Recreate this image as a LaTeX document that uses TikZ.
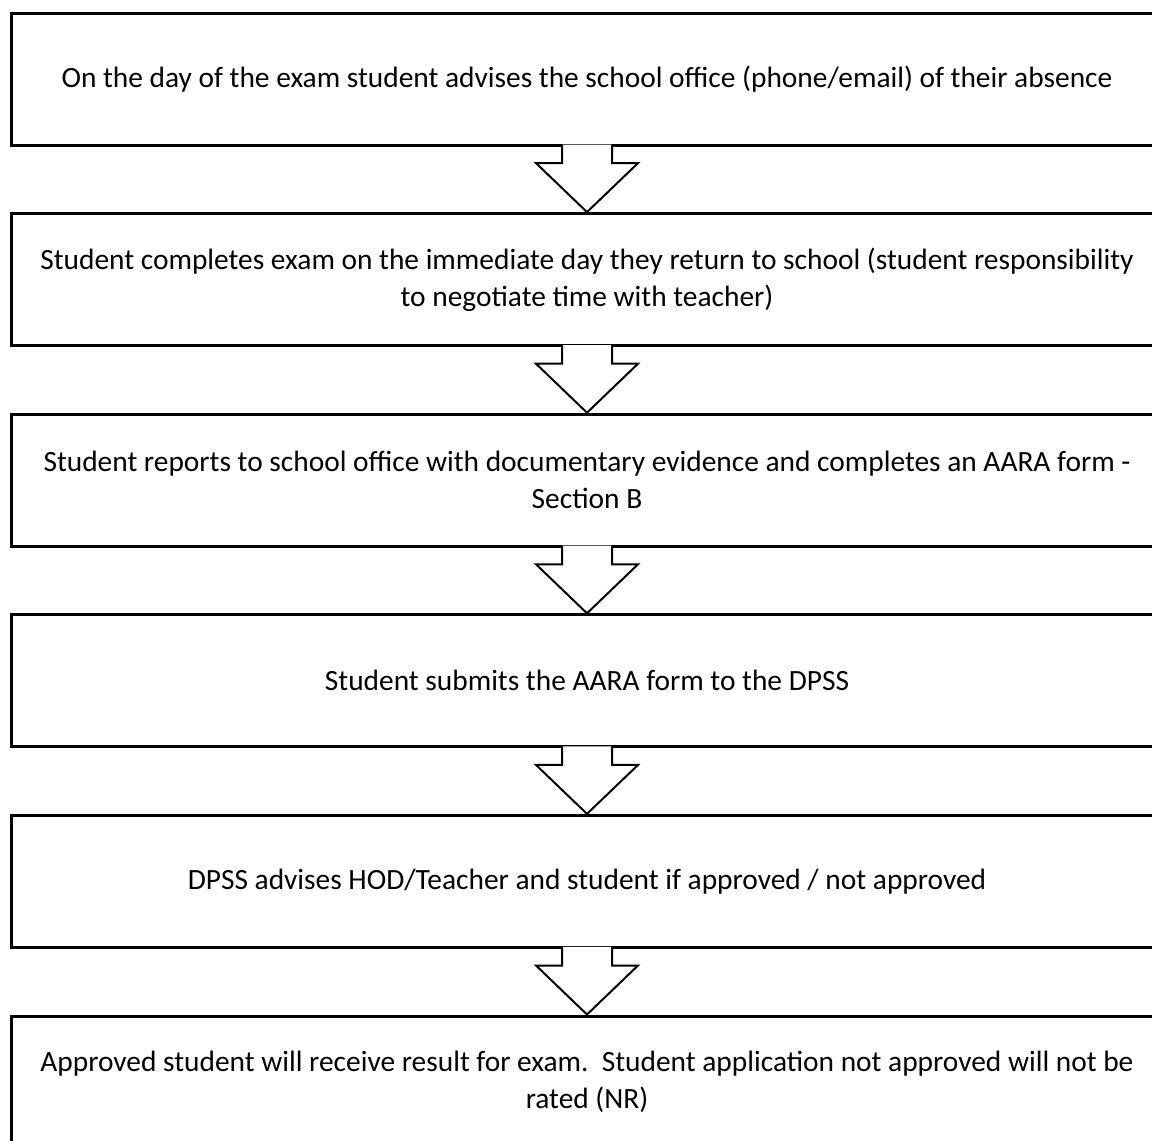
\documentclass[tikz,border=0pt]{standalone}
\usepackage{fontspec}
\setmainfont{Carlito}
\tikzset{
    stepbox/.style={draw,line width=1.5pt,minimum width=576pt,minimum height=66pt,inner sep=0pt,align=center,font=\fontsize{14.7}{18.4}\selectfont},
    blockarrow/.style={draw,fill=white,line width=1pt,line join=miter}
}
\begin{document}
\begin{tikzpicture}[x=0.5pt,y=-0.5pt]
    \clip (0,0) rectangle (1152,1141);
    \node[stepbox] (absence) at (587,79) {On the day of the exam student advises the school office (phone/email) of their absence};
    \node[stepbox] (complete) at (587,279.6) {Student completes exam on the immediate day they return to school (student responsibility\\to negotiate time with teacher)};
    \node[stepbox] (report) at (587,480.2) {Student reports to school office with documentary evidence and completes an AARA form -\\Section B};
    \node[stepbox] (submit) at (587,680.8) {Student submits the AARA form to the DPSS};
    \node[stepbox] (advise) at (587,881.4) {DPSS advises HOD/Teacher and student if approved / not approved};
    \node[stepbox] (result) at (587,1082) {Approved student will receive result for exam.\ \ Student application not approved will not be\\rated (NR)};
    \foreach \a/\b in {absence/complete,complete/report,report/submit,submit/advise,advise/result}{
        \draw[blockarrow] ([xshift=-12.5pt,yshift=1pt]\a.south) -- ([xshift=-12.5pt,yshift=24.5pt]\b.north) -- ([xshift=-25.5pt,yshift=24.5pt]\b.north) -- (\b.north) -- ([xshift=25.5pt,yshift=24.5pt]\b.north) -- ([xshift=12.5pt,yshift=24.5pt]\b.north) -- ([xshift=12.5pt,yshift=1pt]\a.south);
    }
\end{tikzpicture}
\end{document}
